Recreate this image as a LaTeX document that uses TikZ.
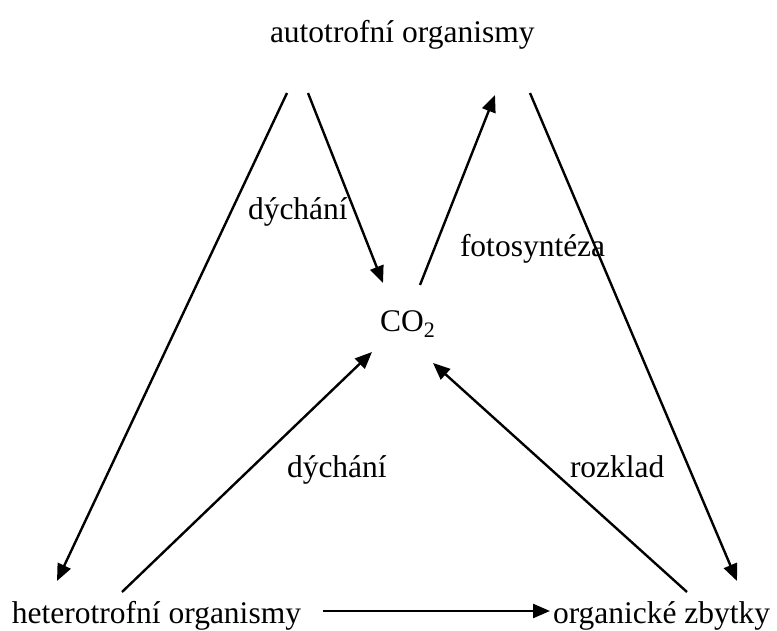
\documentclass[tikz,border=0pt]{standalone}
\usepackage{fontspec}
\setmainfont{Liberation Serif}
\usetikzlibrary{arrows.meta}
\begin{document}
\begin{tikzpicture}[x=1pt,y=-1pt,
  label text/.style={anchor=base west,inner sep=0pt,outer sep=0pt,
    font=\fontsize{31.5}{36}\selectfont},
  flow/.style={line width=2.4pt,-{Triangle[length=17pt,width=14pt]}}]
\useasboundingbox (0,0) rectangle (777,631);

% organism groups and carbon dioxide
\node[label text] (auto) at (270,43) {autotrofní organismy};
\node[label text] (hetero) at (12,623) {heterotrofní organismy};
\node[label text] (zbytky) at (553,623) {organické zbytky};
\node[label text] (co2) at (380,331) {CO\textsubscript{2}};

% process labels
\node[label text] (dych1) at (248,220) {dýchání};
\node[label text] (foto) at (460,257) {fotosyntéza};
\node[label text] (dych2) at (287,477) {dýchání};
\node[label text] (rozklad) at (570,477) {rozklad};

% connector end points
\coordinate (a1s) at (287,93);   \coordinate (a1e) at (57,581);
\coordinate (a2s) at (308,93);   \coordinate (a2e) at (383,283);
\coordinate (a3s) at (420,285);  \coordinate (a3e) at (495,95);
\coordinate (a4s) at (530,93);   \coordinate (a4e) at (737,581);
\coordinate (a5s) at (122,592);  \coordinate (a5e) at (372,352);
\coordinate (a6s) at (687,592);  \coordinate (a6e) at (433,363);
\coordinate (a7s) at (323,611);  \coordinate (a7e) at (550,611);

% carbon cycle arrows
\draw[flow] (a1s) -- (a1e);
\draw[flow] (a2s) -- (a2e);
\draw[flow] (a3s) -- (a3e);
\draw[flow] (a4s) -- (a4e);
\draw[flow] (a5s) -- (a5e);
\draw[flow] (a6s) -- (a6e);
\draw[flow] (a7s) -- (a7e);
\end{tikzpicture}
\end{document}
